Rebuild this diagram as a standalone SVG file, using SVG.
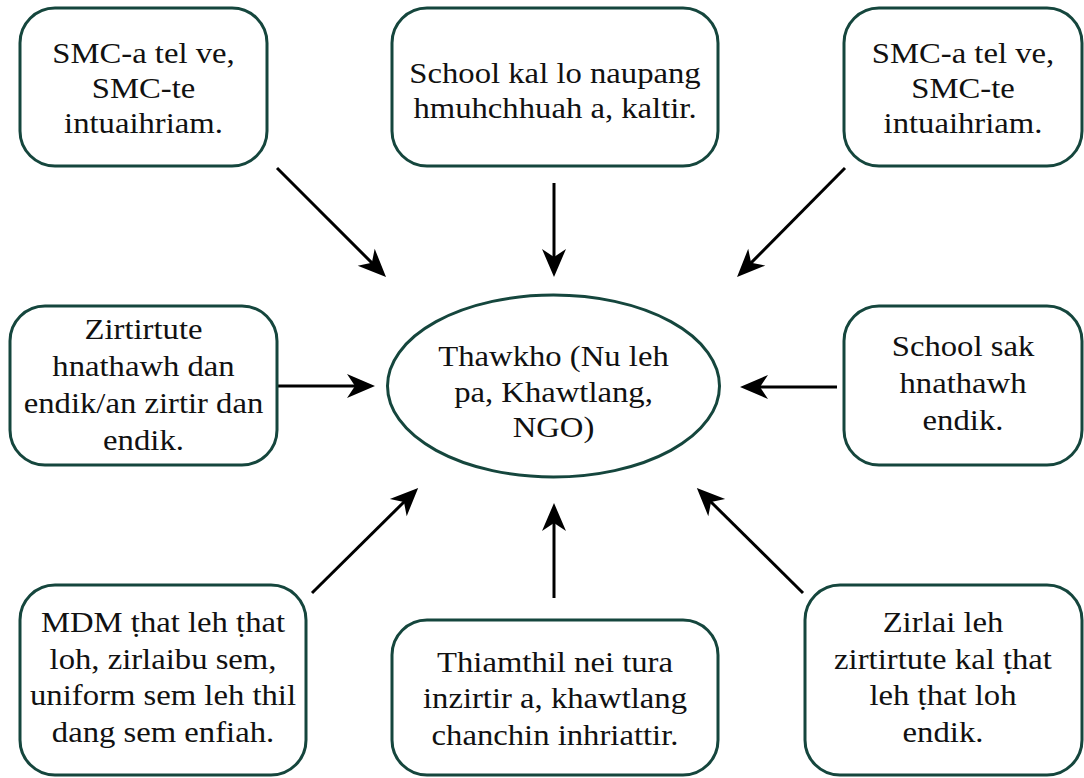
<svg xmlns="http://www.w3.org/2000/svg" width="1084" height="778" viewBox="0 0 1084 778">
<style>
.box{fill:#fff;stroke:#15463d;stroke-width:3}
.c{stroke:#000;stroke-width:3;fill:none;marker-end:url(#ah)}
</style>
<defs>
<marker id="ah" markerUnits="userSpaceOnUse" markerWidth="30" markerHeight="26" viewBox="-14 -13 30 26" refX="0" refY="0" orient="auto">
<path d="M15,0 L-13,-12 L-5,0 L-13,12 Z" fill="#000"/>
</marker>
</defs>
<rect width="1084" height="778" fill="#fff"/>
<g id="connectors">
<line class="c" x1="277" y1="168" x2="375.4" y2="266.4"/>
<line class="c" x1="554" y1="183" x2="554" y2="262"/>
<line class="c" x1="845" y1="168" x2="747.6" y2="266.4"/>
<line class="c" x1="278" y1="386" x2="360" y2="386"/>
<line class="c" x1="837" y1="387" x2="755" y2="387"/>
<line class="c" x1="312" y1="593" x2="407.5" y2="498.5"/>
<line class="c" x1="554" y1="598" x2="554" y2="518"/>
<line class="c" x1="803" y1="593" x2="707.5" y2="498.5"/>
</g>
<g font-family="'Liberation Serif', 'Times New Roman', 'DejaVu Serif', serif" font-size="30" fill="#111" text-anchor="middle">
<g id="center">
<ellipse class="box" cx="553.5" cy="386" rx="166" ry="91"/>
<g transform="translate(553.5 0) scale(1.09 1)"><text><tspan x="0" y="366">Thawkho (Nu leh</tspan><tspan x="0" y="402">pa, Khawtlang,</tspan><tspan x="0" y="437">NGO)</tspan></text></g>
</g>
<g id="n1">
<rect class="box" x="20" y="8" width="247" height="158" rx="35"/>
<g transform="translate(143.5 0) scale(1.09 1)"><text><tspan x="0" y="63">SMC-a tel ve,</tspan><tspan x="0" y="98">SMC-te</tspan><tspan x="0" y="133">intuaihriam.</tspan></text></g>
</g>
<g id="n2">
<rect class="box" x="392" y="8" width="326" height="158" rx="35"/>
<g transform="translate(555 0) scale(1.09 1)"><text><tspan x="0" y="83">School kal lo naupang</tspan><tspan x="0" y="118">hmuhchhuah a, kaltir.</tspan></text></g>
</g>
<g id="n3">
<rect class="box" x="844" y="8" width="238" height="158" rx="35"/>
<g transform="translate(963 0) scale(1.09 1)"><text><tspan x="0" y="63">SMC-a tel ve,</tspan><tspan x="0" y="98">SMC-te</tspan><tspan x="0" y="133">intuaihriam.</tspan></text></g>
</g>
<g id="n4">
<rect class="box" x="10" y="306" width="267" height="159" rx="35"/>
<g transform="translate(143.5 0) scale(1.09 1)"><text><tspan x="0" y="339">Zirtirtute</tspan><tspan x="0" y="376">hnathawh dan</tspan><tspan x="0" y="413">endik/an zirtir dan</tspan><tspan x="0" y="450">endik.</tspan></text></g>
</g>
<g id="n5">
<rect class="box" x="844" y="306" width="238" height="159" rx="35"/>
<g transform="translate(963 0) scale(1.09 1)"><text><tspan x="0" y="356">School sak</tspan><tspan x="0" y="393">hnathawh</tspan><tspan x="0" y="430">endik.</tspan></text></g>
</g>
<g id="n6">
<rect class="box" x="20" y="585" width="286" height="190" rx="35"/>
<g transform="translate(163 0) scale(1.09 1)"><text><tspan x="0" y="632">MDM ṭhat leh ṭhat</tspan><tspan x="0" y="669">loh, zirlaibu sem,</tspan><tspan x="0" y="705">uniform sem leh thil</tspan><tspan x="0" y="742">dang sem enfiah.</tspan></text></g>
</g>
<g id="n7">
<rect class="box" x="392" y="620" width="326" height="155" rx="35"/>
<g transform="translate(555 0) scale(1.09 1)"><text><tspan x="0" y="672">Thiamthil nei tura</tspan><tspan x="0" y="708">inzirtir a, khawtlang</tspan><tspan x="0" y="745">chanchin inhriattir.</tspan></text></g>
</g>
<g id="n8">
<rect class="box" x="805" y="585" width="277" height="190" rx="35"/>
<g transform="translate(943 0) scale(1.09 1)"><text><tspan x="0" y="632">Zirlai leh</tspan><tspan x="0" y="669">zirtirtute kal ṭhat</tspan><tspan x="0" y="705">leh ṭhat loh</tspan><tspan x="0" y="742">endik.</tspan></text></g>
</g>
</g>
</svg>
